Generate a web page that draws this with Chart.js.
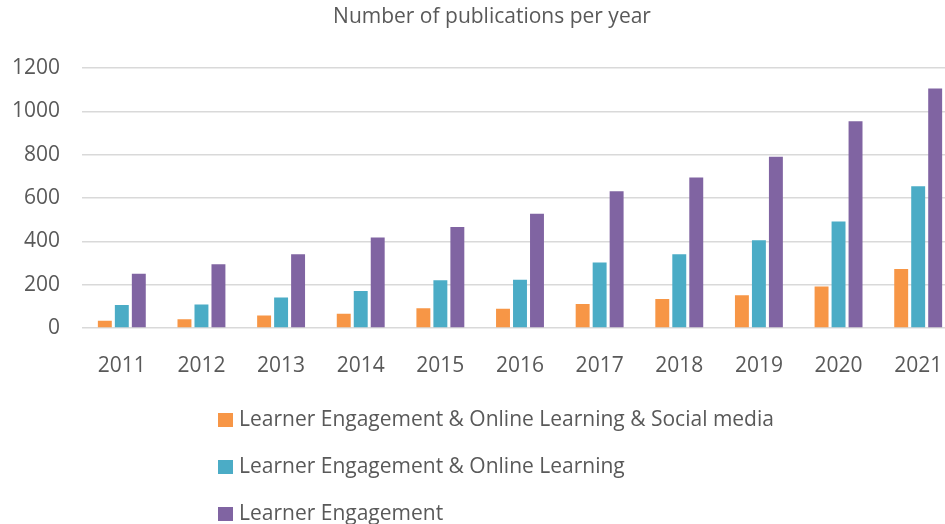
<!DOCTYPE html>
<html>
<head>
<meta charset="utf-8">
<script src="https://cdn.jsdelivr.net/npm/chart.js@4/dist/chart.umd.min.js"></script>
<style>
  html, body { margin: 0; padding: 0; background: #fff; overflow: hidden; }
  .wrap { position: relative; width: 984px; height: 524px; }
  #legend { position: absolute; left: 218px; top: 404px; font-family: "Open Sans", sans-serif; font-size: 21px; line-height: 29px; color: #595959; }
  #legend div { height: 47px; display: flex; align-items: flex-start; }
  #legend span.box { display: inline-block; width: 15px; height: 14px; margin-right: 6px; margin-top: 9px; }
</style>
</head>
<body>
<div class="wrap">
  <canvas id="chart" width="984" height="524"></canvas>
  <div id="legend"></div>
</div>
<script>
const years = ['2011', '2012', '2013', '2014', '2015', '2016', '2017', '2018', '2019', '2020', '2021']
const socialMedia = [34, 40, 58, 66, 91, 89, 111, 134, 151, 192, 272]
const onlineLearning = [106, 108, 141, 171, 220, 223, 303, 341, 405, 492, 655]
const engagement = [251, 295, 341, 418, 466, 528, 632, 695, 791, 955, 1106]
const yTicks = [0, 200, 400, 600, 800, 1000, 1200]

const grey = '#595959'
const txt = { family: 'Open Sans', size: 21 }

const ctx = document.getElementById('chart').getContext('2d')
const chart = new Chart(ctx, {
    type: 'bar',
    data: {
        labels: years,
        datasets: [
            { label: 'Learner Engagement & Online Learning & Social media', data: socialMedia, backgroundColor: '#F79646' },
            { label: 'Learner Engagement & Online Learning', data: onlineLearning, backgroundColor: '#4BACC6' },
            { label: 'Learner Engagement', data: engagement, backgroundColor: '#8064A2' }
        ]
    },
    options: {
        responsive: false,
        animation: false,
        layout: { padding: { left: 0, right: 0, top: 0, bottom: 151 } },
        datasets: { bar: { categoryPercentage: 0.64, barPercentage: 0.82 } },
        plugins: {
            legend: { display: false },
            tooltip: { enabled: false },
            title: {
                display: true,
                text: 'Number of publications per year',
                color: grey,
                font: { family: 'Open Sans', size: 21, weight: 'normal' },
                padding: { top: 4, bottom: 39 }
            }
        },
        scales: {
            x: {
                grid: { display: false },
                border: { display: false },
                ticks: { color: grey, font: txt, padding: 17 },
                afterFit: s => { s.height = 45 }
            },
            y: {
                min: 0,
                max: 1200,
                afterBuildTicks: s => { s.ticks = yTicks.map(v => ({ value: v })) },
                grid: { color: '#d9d9d9', lineWidth: 1.5, drawTicks: false },
                border: { display: false },
                ticks: { color: grey, font: txt, padding: 22, callback: v => String(v) },
                afterFit: s => { s.width = 82 }
            },
            // empty right axis, only reserves the space cut off on the right
            yRight: {
                position: 'right',
                grid: { display: false },
                border: { display: false },
                ticks: { display: false },
                afterFit: s => { s.width = 26 }
            }
        }
    }
})

// vertical legend like the original
const legendEl = document.getElementById('legend')
chart.data.datasets.forEach(ds => {
    const row = document.createElement('div')
    row.innerHTML = '<span class="box" style="background:' + ds.backgroundColor + '"></span><span>' + ds.label + '</span>'
    legendEl.appendChild(row)
})
</script>
</body>
</html>
